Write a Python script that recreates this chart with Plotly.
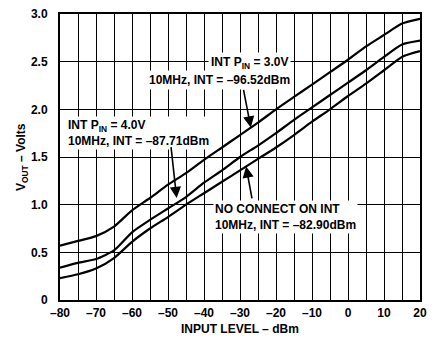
import plotly.graph_objects as go

x_dbm = [-80, -75, -70, -65, -60, -55, -50, -45, -40, -35, -30, -25, -20, -15, -10, -5, 0, 5, 10, 15, 20]
v_int_3v = [0.57, 0.62, 0.67, 0.77, 0.94, 1.07, 1.21, 1.33, 1.47, 1.60, 1.73, 1.86, 2.00, 2.13, 2.26, 2.39, 2.52, 2.66, 2.78, 2.90, 2.95]
v_int_4v = [0.34, 0.39, 0.43, 0.52, 0.71, 0.84, 0.96, 1.08, 1.23, 1.36, 1.50, 1.62, 1.75, 1.89, 2.02, 2.15, 2.28, 2.41, 2.55, 2.68, 2.72]
v_no_conn = [0.23, 0.27, 0.33, 0.44, 0.61, 0.75, 0.87, 1.00, 1.12, 1.24, 1.36, 1.48, 1.60, 1.73, 1.87, 2.00, 2.14, 2.27, 2.41, 2.55, 2.61]

x_ticks = [-80, -70, -60, -50, -40, -30, -20, -10, 0, 10, 20]
x_tick_text = ["–80", "–70", "–60", "–50", "–40", "–30", "–20", "–10", "0", "10", "20"]
y_ticks = [0, 0.5, 1.0, 1.5, 2.0, 2.5, 3.0]
y_tick_text = ["0", "0.5", "1.0", "1.5", "2.0", "2.5", "3.0"]

FONT = "Liberation Sans, Arial, sans-serif"

fig = go.Figure()
for ys in (v_int_3v, v_int_4v, v_no_conn):
    fig.add_trace(go.Scatter(x=x_dbm, y=ys, mode="lines",
                             line=dict(color="black", width=2.2, shape="spline", smoothing=0.6),
                             showlegend=False, hoverinfo="skip"))

txt_font = dict(family=FONT, size=12, color="black", weight="bold")

# text labels
fig.add_annotation(x=-15.8, y=2.49, xref="x", yref="y", xanchor="right", yanchor="middle",
                   text="INT P<sub>IN</sub> = 3.0V", align="right",
                   showarrow=False, bgcolor="white", font=txt_font, borderpad=2)
fig.add_annotation(x=-15.4, y=2.31, xref="x", yref="y", xanchor="right", yanchor="middle",
                   text="10MHz, INT = –96.52dBm", align="right",
                   showarrow=False, bgcolor="white", font=txt_font, borderpad=2)
fig.add_annotation(x=-78.3, y=1.755, xref="x", yref="y", xanchor="left", yanchor="middle",
                   text="INT P<sub>IN</sub> = 4.0V<br>10MHz, INT = –87.71dBm", align="left",
                   showarrow=False, bgcolor="white", font=txt_font, borderpad=1)
fig.add_annotation(x=-37.6, y=0.875, xref="x", yref="y", xanchor="left", yanchor="middle",
                   text="NO CONNECT ON INT<br>10MHz, INT = –82.90dBm", align="left",
                   showarrow=False, bgcolor="white", font=txt_font, borderpad=1)

# arrows
arrow_style = dict(showarrow=True, arrowhead=2, arrowsize=1.4, arrowwidth=1.6, arrowcolor="black",
                   xref="x", yref="y", axref="x", ayref="y", text="")
fig.add_annotation(x=-27.0, y=1.81, ax=-29.1, ay=2.22, **arrow_style)
fig.add_annotation(x=-47.6, y=1.07, ax=-49.2, ay=1.62, **arrow_style)
fig.add_annotation(x=-28.3, y=1.40, ax=-26.6, ay=1.05, **arrow_style)

# axis titles
fig.add_annotation(x=0.5, y=0, xref="paper", yref="paper", yshift=-29,
                   xanchor="center", yanchor="middle", showarrow=False,
                   text="INPUT LEVEL – dBm", font=dict(family=FONT, size=12, color="black", weight="bold"))
fig.add_annotation(x=0, y=0.5, xref="paper", yref="paper", xshift=-38,
                   xanchor="center", yanchor="middle", showarrow=False, textangle=-90,
                   text="V<sub>OUT</sub> – Volts", font=dict(family=FONT, size=12, color="black", weight="bold"))

fig.update_layout(
    width=441, height=341,
    margin=dict(l=60, r=21, t=14, b=41, autoexpand=False),
    paper_bgcolor="white", plot_bgcolor="white",
    font=dict(family=FONT, size=12, color="black", weight="bold"),
)
fig.update_xaxes(range=[-80, 20], tickvals=x_ticks, ticktext=x_tick_text,
                 showgrid=True, gridcolor="black", gridwidth=1,
                 zeroline=False, showline=True, linecolor="black", linewidth=2, mirror=True,
                 ticks="", ticklabelstandoff=1, automargin=False,
                 minor=dict(dtick=5, tick0=-80, showgrid=True, gridcolor="black", gridwidth=1))
fig.update_yaxes(range=[0, 3.0], tickvals=y_ticks, ticktext=y_tick_text,
                 showgrid=True, gridcolor="black", gridwidth=1,
                 zeroline=False, showline=True, linecolor="black", linewidth=2, mirror=True,
                 ticks="", ticklabelstandoff=8, automargin=False)

fig.write_html("out.html")
